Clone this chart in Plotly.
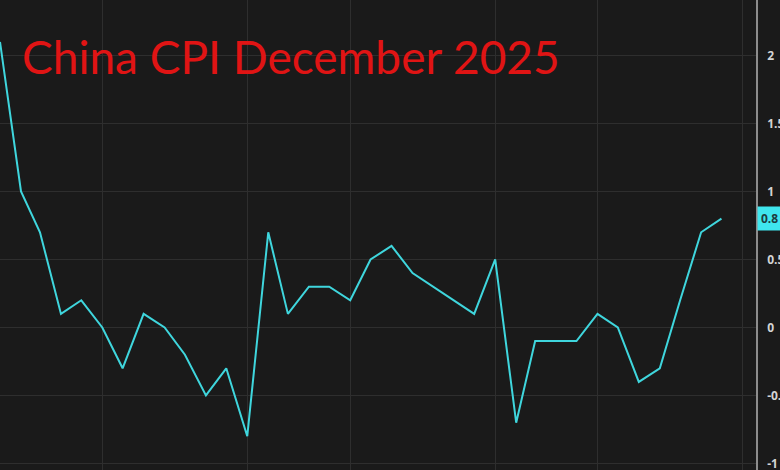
import plotly.graph_objects as go

months = [
    "2023-01-01", "2023-02-01", "2023-03-01", "2023-04-01", "2023-05-01", "2023-06-01",
    "2023-07-01", "2023-08-01", "2023-09-01", "2023-10-01", "2023-11-01", "2023-12-01",
    "2024-01-01", "2024-02-01", "2024-03-01", "2024-04-01", "2024-05-01", "2024-06-01",
    "2024-07-01", "2024-08-01", "2024-09-01", "2024-10-01", "2024-11-01", "2024-12-01",
    "2025-01-01", "2025-02-01", "2025-03-01", "2025-04-01", "2025-05-01", "2025-06-01",
    "2025-07-01", "2025-08-01", "2025-09-01", "2025-10-01", "2025-11-01", "2025-12-01",
]
cpi_yoy = [
    2.1, 1.0, 0.7, 0.1, 0.2, 0.0, -0.3, 0.1, 0.0, -0.2, -0.5, -0.3,
    -0.8, 0.7, 0.1, 0.3, 0.3, 0.2, 0.5, 0.6, 0.4, 0.3, 0.2, 0.1,
    0.5, -0.7, -0.1, -0.1, -0.1, 0.1, 0.0, -0.4, -0.3, 0.2, 0.7, 0.8,
]
x_grid = ["2023-06-01", "2024-01-01", "2024-06-01", "2025-01-01", "2025-06-01", "2026-01-01"]
y_ticks = [-1, -0.5, 0, 0.5, 1, 1.5, 2]
y_labels = ["-1", "-0.5", "0", "0.5", "1", "1.5", "2"]
title_text = "China CPI December 2025"
last_label = "0.8"

line_color = "#3fd6dd"
bg = "#1a1a1a"
grid = "#2e2e2e"

fig = go.Figure()
fig.add_trace(go.Scatter(
    x=months, y=cpi_yoy, mode="lines",
    line=dict(color=line_color, width=2),
    hoverinfo="skip", showlegend=False,
))

fig.update_layout(
    width=780, height=470,
    paper_bgcolor=bg, plot_bgcolor=bg,
    margin=dict(l=0, r=24, t=0, b=0, autoexpand=False),
    xaxis=dict(
        type="date",
        range=["2023-01-01", "2026-01-21"],
        tickvals=x_grid, showticklabels=False,
        showgrid=True, gridcolor=grid, gridwidth=1,
        zeroline=False, showline=False, ticks="",
        automargin=False,
    ),
    yaxis=dict(
        side="right",
        range=[-1.048, 2.408],
        tickvals=y_ticks, ticktext=y_labels,
        showgrid=True, gridcolor=grid, gridwidth=1,
        zeroline=False,
        showline=True, linecolor="#8c8c8c", linewidth=1.5,
        ticks="outside", ticklen=7, tickcolor=bg,
        tickfont=dict(family="Open Sans", size=12, color="#d4d4d4", weight="bold"),
        automargin=False, ticklabeloverflow="allow",
    ),
    annotations=[
        dict(
            x=0.026, y=0.88, xref="paper", yref="paper",
            xanchor="left", yanchor="middle",
            text=title_text, showarrow=False,
            font=dict(family="Lato", size=46, color="#e01414"),
        ),
        dict(
            x=1, y=cpi_yoy[-1], xref="paper", yref="y",
            xanchor="left", yanchor="middle", xshift=1,
            text=last_label, showarrow=False,
            bgcolor="#3fe6ee", borderpad=3,
            font=dict(family="Open Sans", size=12, color="#1e3c3e", weight="bold"),
            width=34, align="left",
        ),
    ],
)

fig.write_html("out.html", config={"displayModeBar": False},
               post_script="document.body.style.margin='0';")
